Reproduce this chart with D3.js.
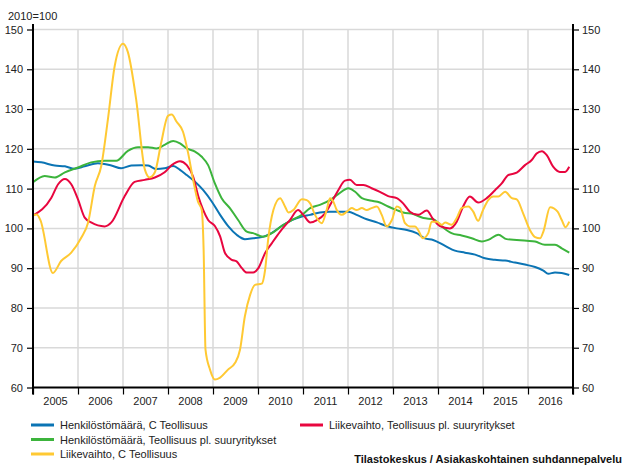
<!DOCTYPE html>
<html>
<head>
<meta charset="utf-8">
<script src="https://cdn.jsdelivr.net/npm/d3@7"></script>
<style>
  body { margin: 0; background: #fff; }
  svg { font-family: "Liberation Sans", Arial, sans-serif; }
</style>
</head>
<body>
<div class="chart"></div>
<script>
// months counted from Jan 2005, value (2010=100)
const years = ["2005", "2006", "2007", "2008", "2009", "2010", "2011", "2012", "2013", "2014", "2015", "2016"];
const yTicks = [60, 70, 80, 90, 100, 110, 120, 130, 140, 150];

const henkC = [[0,116.8],[2.2,116.6],[5.8,115.8],[8.5,115.6],[11.1,115],[13.8,115.6],[17.3,116.4],[20.9,115.8],[23.5,115.1],[26.2,115.8],[28.9,115.9],[30.7,115.8],[32.9,114.9],[35.1,115.1],[37.4,115.7],[39.2,114.7],[41,113.4],[43.2,111.7],[45.4,109.6],[47.7,106.7],[49.9,103.4],[52.1,100.5],[54.3,98.4],[56.5,97.3],[58.7,97.5],[61,97.8],[63.7,98.9],[66.3,100.6],[69,102.1],[71.7,103],[73.9,103.4],[76.5,104],[79.2,104.2],[81.9,104.2],[84.1,104.2],[86.3,103.4],[89,102.3],[91.7,101.5],[94.3,100.6],[97,100],[99.7,99.6],[102.3,98.8],[104.5,97.5],[106.7,97.1],[109.9,95.6],[112.5,94.4],[115.2,93.9],[117.9,93.4],[120.5,92.5],[123.2,92.1],[125.9,91.9],[128.5,91.4],[131.2,90.9],[133.9,90.3],[136.1,89.4],[137.4,88.6],[139.2,88.9],[141,88.8],[143,88.3]];

const henkPl = [[0,111.6],[3.1,113.2],[5.8,112.8],[8.5,114.1],[12,115.3],[15.5,116.6],[19.1,117],[22.2,117],[25.3,119.5],[28,120.4],[30.7,120.4],[32.9,120.1],[35.1,121],[37.4,122],[39.2,121.4],[41,120.1],[43.2,119.3],[45,118],[46.7,115.9],[48.5,111.3],[50.3,107.6],[52.5,105.1],[54.7,102.1],[57,99.2],[58.7,98.8],[61.4,97.9],[63.7,98.8],[66.3,100.6],[69,102.1],[71.7,103.4],[73.9,105.1],[76.5,105.9],[79.2,107.1],[81.4,108.6],[84.1,110.1],[85.9,109.2],[87.7,107.6],[89.9,107],[92.5,106.5],[94.7,105.5],[97,104.6],[98.7,104],[101.4,103.6],[104.1,102.6],[106.7,102.3],[109,100.5],[111.6,98.8],[114.3,98.2],[117,97.5],[119.7,96.7],[121.4,97.1],[124.1,98.4],[126.3,97.3],[129,97.1],[131.7,96.9],[133.9,96.7],[136.5,95.9],[139.2,95.9],[141,95],[143,93.9]];

const liikePl = [[0,103.2],[4.9,107.7],[6.7,111.1],[8.5,112.4],[10.2,111.1],[12,107.3],[13.8,102.7],[15.5,101.5],[19.1,100.5],[20.9,101.5],[24.5,108.2],[27.1,111.7],[29.8,112.2],[32.5,112.8],[35.1,114.1],[37,115.9],[39.2,116.9],[41,115.9],[42.7,113],[44.1,108],[45.4,104.6],[46.7,102.1],[48.5,100.6],[49.9,98],[51.2,93.8],[53,92.1],[54.3,91.7],[55.7,90],[57,88.9],[58.7,88.9],[60.1,90],[61.9,93.8],[63.7,96.3],[65.9,99.2],[68.5,102.1],[70.7,104.6],[72.1,103.4],[73.9,101.5],[75.7,102.1],[77.9,103.8],[79.7,106.7],[81.4,109.6],[83.2,112],[84.5,112.2],[86.3,110.9],[88.1,110.9],[90.3,110.1],[92.5,109.2],[94.7,108.1],[97,107.6],[98.7,106.3],[100.5,104.2],[102.7,103.4],[105,104.5],[106.7,102.3],[108.5,100.6],[111.2,100],[113,101.7],[114.7,105.5],[116.5,108],[118.7,106.5],[121,107.6],[123.2,109.6],[125,111.3],[126.7,113.4],[129,114],[131.2,115.9],[133,117.2],[134.3,118.8],[135.7,119.4],[137,118.4],[138.7,115.5],[140.5,114.2],[141.9,114.2],[143,115.5]];

const liikeC = [[0,103.2],[1,103.5],[2,102],[5.3,88.8],[7.5,91.8],[10.2,93.9],[12.9,97.7],[14.7,101.5],[16.5,110.7],[18.2,115.7],[20,127.6],[21.8,140.9],[24,146.4],[25.3,144.3],[27.5,132.5],[29.8,114.9],[31.1,112.8],[32.5,114.1],[34.2,121.6],[36,128.3],[37,128.6],[38.3,126.8],[40,124.3],[41.4,118.8],[42.7,112.2],[44,106.7],[45,104.6],[45.5,94.6],[46,69.5],[47.2,64.5],[48.5,62],[49.9,62.5],[52,64.5],[53.9,66.2],[55.2,69.5],[56.5,77.9],[57.9,83.3],[59.2,85.8],[61,86.1],[61.9,89.6],[62.7,97.1],[64.1,104.6],[65.9,107.6],[67.2,105.5],[68.1,104],[69.4,104.6],[71.7,107.3],[73,107.1],[73.9,106.3],[75.2,103.4],[77,101.3],[78.3,104.6],[79.2,107.6],[80.1,106.7],[81,104.6],[82.3,103.4],[83.7,104.2],[85,105.1],[86.3,104.6],[87.7,105.1],[89,104.6],[90.3,105.1],[91.7,105.5],[93,103.4],[94.3,100.5],[95.7,102.1],[97,105.5],[97.9,105.1],[99.2,101.3],[100.5,100.5],[101.9,100.5],[102.7,99.6],[104,97.5],[105.4,98.8],[106.3,101.7],[107.7,101.7],[109,100.9],[109.9,101.5],[111.6,100.9],[113,102.6],[114.3,105.1],[116.1,105.5],[117.4,104.2],[118.7,101.9],[120,104.6],[121.4,107.1],[122.7,108],[124.1,108],[125.9,109.2],[127.7,107.6],[129,107.3],[130.7,103.8],[132.5,99.6],[133.9,97.8],[135.2,97.5],[136.1,99.2],[137.9,105.3],[139.9,104.2],[141,102.1],[142,100.3],[143,101.7]];

const series = [
  {name: "Henkilöstömäärä, C Teollisuus", values: henkC, color: "#0b74b4"},
  {name: "Henkilöstömäärä, Teollisuus pl. suuryritykset", values: henkPl, color: "#3cb43c"},
  {name: "Liikevaihto, Teollisuus pl. suuryritykset", values: liikePl, color: "#e8063f"},
  {name: "Liikevaihto, C Teollisuus", values: liikeC, color: "#ffc933"}
];

const width = 624, height = 465;
const plot = {left: 33, right: 573, top: 29.5, bottom: 387.5};

const svg = d3.select(".chart").append("svg")
    .attr("width", width)
    .attr("height", height);

const x = d3.scaleLinear().domain([0, 144]).range([plot.left, plot.right]);
const y = d3.scaleLinear().domain([60, 150]).range([plot.bottom, plot.top]);
const xBand = d3.scaleBand().domain(years).range([plot.left, plot.right]);

// grid
svg.append("g").selectAll("line")
    .data(yTicks.slice(1))
    .enter().append("line")
    .attr("x1", plot.left).attr("x2", plot.right)
    .attr("y1", d => y(d)).attr("y2", d => y(d))
    .attr("stroke", "#d9d9d9").attr("stroke-width", 1.5);

svg.append("g").selectAll("line")
    .data(d3.range(12, 144, 12))
    .enter().append("line")
    .attr("x1", d => x(d)).attr("x2", d => x(d))
    .attr("y1", plot.top).attr("y2", plot.bottom)
    .attr("stroke", "#d9d9d9").attr("stroke-width", 1.5);

// lines
const line = d3.line()
    .x(d => x(d[0]))
    .y(d => y(d[1]))
    .curve(d3.curveMonotoneX);

svg.append("g").selectAll("path")
    .data(series)
    .enter().append("path")
    .attr("d", d => line(d.values))
    .attr("fill", "none")
    .attr("stroke", d => d.color)
    .attr("stroke-width", 2)
    .attr("stroke-linejoin", "round");

// axes
function styleAxis(g) {
  g.select(".domain").remove();
  g.selectAll(".tick line").attr("stroke", "#000").attr("stroke-width", 1.2);
  g.selectAll(".tick text").attr("fill", "#222").style("font-size", "11px");
}

svg.append("g")
    .attr("transform", `translate(${plot.left},0)`)
    .call(d3.axisLeft(y).tickValues(yTicks).tickSize(6).tickPadding(4))
    .call(styleAxis);

svg.append("g")
    .attr("transform", `translate(${plot.right},0)`)
    .call(d3.axisRight(y).tickValues(yTicks).tickSize(6).tickPadding(3))
    .call(styleAxis);

svg.append("g")
    .attr("transform", `translate(0,${plot.bottom})`)
    .call(d3.axisBottom(x).tickValues(d3.range(0, 145, 12)).tickSize(7).tickFormat(""))
    .call(styleAxis);

svg.append("g")
    .attr("transform", `translate(0,${plot.bottom})`)
    .call(d3.axisBottom(xBand).tickSize(0).tickPadding(10))
    .call(styleAxis);

svg.append("line")
    .attr("x1", plot.left - 1).attr("x2", plot.right + 1)
    .attr("y1", plot.bottom).attr("y2", plot.bottom)
    .attr("stroke", "#000").attr("stroke-width", 2);
[plot.left, plot.right].forEach(xx => {
  svg.append("line")
    .attr("x1", xx).attr("x2", xx)
    .attr("y1", 24).attr("y2", plot.bottom + 7)
    .attr("stroke", "#000").attr("stroke-width", 2);
});

svg.append("text")
    .attr("x", 8).attr("y", 20)
    .style("font-size", "11px").attr("fill", "#222")
    .text("2010=100");

// legend
const legendPos = [
  {s: 0, x: 31, y: 425},
  {s: 1, x: 31, y: 439.5},
  {s: 3, x: 31, y: 454},
  {s: 2, x: 300, y: 425}
];
const lg = svg.append("g").selectAll("g")
    .data(legendPos)
    .enter().append("g")
    .attr("transform", d => `translate(${d.x},${d.y})`);
lg.append("line")
    .attr("x1", 0).attr("x2", 23)
    .attr("stroke", d => series[d.s].color)
    .attr("stroke-width", 3);
lg.append("text")
    .attr("x", 29).attr("y", 4)
    .style("font-size", "11px").attr("fill", "#222")
    .text(d => series[d.s].name);

svg.append("text")
    .attr("x", 622).attr("y", 463)
    .attr("text-anchor", "end")
    .style("font-size", "11px").style("font-weight", "bold").attr("fill", "#111")
    .text("Tilastokeskus / Asiakaskohtainen suhdannepalvelu");
</script>
</body>
</html>
